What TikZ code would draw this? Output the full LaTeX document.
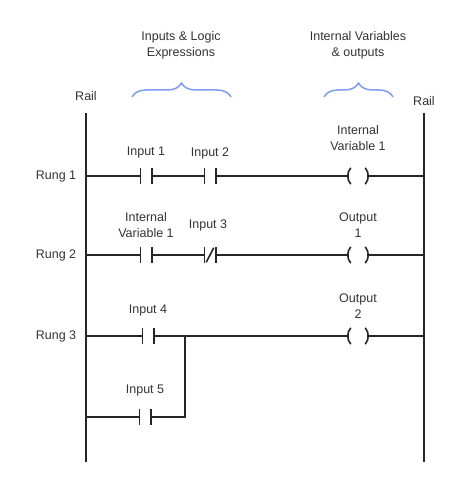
\documentclass[tikz,border=0pt]{standalone}
\usepackage{fontspec}
\setmainfont{Liberation Sans}
\usetikzlibrary{decorations.pathreplacing}
\definecolor{bl}{HTML}{7F9CF5}
\tikzset{
  el/.style={inner sep=0pt,minimum width=11pt,minimum height=16pt},
  lab/.style={font=\fontsize{12.5}{16}\selectfont,align=center,text=black!80},
  w/.style={line width=1.6pt,black!85},
  br/.style={bl,line width=1.5pt,decorate,decoration={brace,amplitude=14pt}}
}
\newcommand{\mycontact}[1]{\draw[w] (#1.north west)--(#1.south west) (#1.north east)--(#1.south east);}
\newcommand{\mync}[1]{\mycontact{#1}\draw[w] (#1.south west)++(2pt,1pt)--([xshift=-2pt,yshift=-1pt]#1.north east);}
\newcommand{\mycoil}[1]{\draw[w] ([xshift=2pt]#1.north west) to[bend right=40] ([xshift=2pt]#1.south west);
  \draw[w] ([xshift=-2pt]#1.north east) to[bend left=40] ([xshift=-2pt]#1.south east);}
\begin{document}
\begin{tikzpicture}[x=1pt,y=-1pt]
\useasboundingbox (0,0) rectangle (474,486);
% rails
\coordinate (lt) at (86,113); \coordinate (lb) at (86,462);
\coordinate (rt) at (424,113); \coordinate (rb) at (424,462);
\draw[w] (lt)--(lb); \draw[w] (rt)--(rb);
\node[lab] (rl) at (86,96) {Rail};
\node[lab] (rr) at (424,101) {Rail};
% headers
\node[lab] (h1) at (181,45) {Inputs \& Logic\\Expressions};
\node[lab] (h2) at (358,45) {Internal Variables\\\& outputs};
\coordinate (b1a) at (132,97); \coordinate (b1b) at (231,97);
\coordinate (b2a) at (324,97); \coordinate (b2b) at (393,97);
\draw[br] (b1a)--(b1b); \draw[br] (b2a)--(b2b);
% rung labels
\node[lab] at (56,176) {Rung 1};
\node[lab] at (56,255) {Rung 2};
\node[lab] at (56,336) {Rung 3};
% rung 1
\coordinate (r1l) at (86,176); \coordinate (r1r) at (424,176);
\node[el] (c11) at (146,176) {}; \node[el] (c12) at (210,176) {}; \node[el,minimum width=18pt] (o1) at (358,176) {};
\mycontact{c11}\mycontact{c12}\mycoil{o1}
\draw[w] (r1l)--(c11.west) (c11.east)--(c12.west) (c12.east)--(o1.west) (o1.east)--(r1r);
\node[lab] at (146,152) {Input 1};
\node[lab] at (210,153) {Input 2};
\node[lab] at (358,138) {Internal\\Variable 1};
% rung 2
\coordinate (r2l) at (86,255); \coordinate (r2r) at (424,255);
\node[el] (c21) at (146,255) {}; \node[el] (c22) at (210,255) {}; \node[el,minimum width=18pt] (o2) at (358,255) {};
\mycontact{c21}\mync{c22}\mycoil{o2}
\draw[w] (r2l)--(c21.west) (c21.east)--(c22.west) (c22.east)--(o2.west) (o2.east)--(r2r);
\node[lab] at (146,225) {Internal\\Variable 1};
\node[lab] at (208,225) {Input 3};
\node[lab] at (358,225) {Output\\1};
% rung 3
\coordinate (r3l) at (86,336); \coordinate (r3r) at (424,336);
\coordinate (r4l) at (86,417);
\coordinate (j1) at (185,336); \coordinate (j2) at (185,417);
\node[el] (c31) at (148,336) {}; \node[el] (c41) at (145,417) {}; \node[el,minimum width=18pt] (o3) at (358,336) {};
\mycontact{c31}\mycontact{c41}\mycoil{o3}
\draw[w] (r3l)--(c31.west) (c31.east)--(j1)--(o3.west) (o3.east)--(r3r);
\draw[w] (r4l)--(c41.west) (c41.east)--(j2)--(j1);
\node[lab] at (148,310) {Input 4};
\node[lab] at (358,306) {Output\\2};
\node[lab] at (145,390) {Input 5};
\end{tikzpicture}
\end{document}
